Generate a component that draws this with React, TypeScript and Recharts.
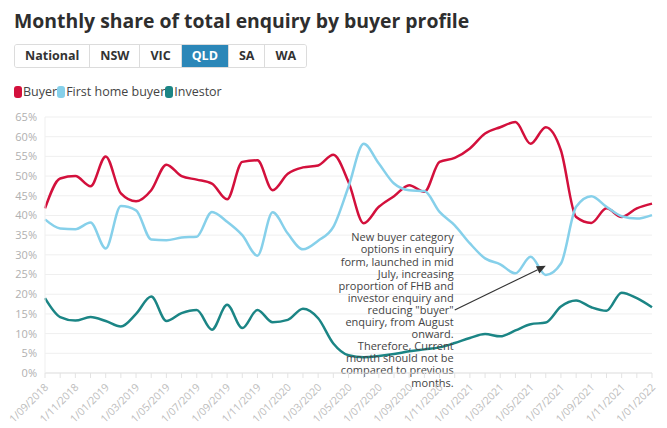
import React from 'react';
import { LineChart, Line, XAxis, YAxis, CartesianGrid, ReferenceLine } from 'recharts';

const months = [
  '1/09/2018', '1/10/2018', '1/11/2018', '1/12/2018',
  '1/01/2019', '1/02/2019', '1/03/2019', '1/04/2019', '1/05/2019', '1/06/2019',
  '1/07/2019', '1/08/2019', '1/09/2019', '1/10/2019', '1/11/2019', '1/12/2019',
  '1/01/2020', '1/02/2020', '1/03/2020', '1/04/2020', '1/05/2020', '1/06/2020',
  '1/07/2020', '1/08/2020', '1/09/2020', '1/10/2020', '1/11/2020', '1/12/2020',
  '1/01/2021', '1/02/2021', '1/03/2021', '1/04/2021', '1/05/2021', '1/06/2021',
  '1/07/2021', '1/08/2021', '1/09/2021', '1/10/2021', '1/11/2021', '1/12/2021',
  '1/01/2022',
];

const buyer = [
  41.8, 49.4, 50.0, 47.4, 55.0, 45.6, 43.6, 46.4, 52.9, 50.0,
  49.1, 48.1, 44.1, 53.6, 54.0, 46.4, 50.6, 52.2, 52.7, 55.4,
  48.5, 38.0, 42.2, 44.9, 47.7, 46.0, 53.6, 54.6, 57.0, 60.8,
  62.4, 63.7, 58.2, 62.4, 56.5, 39.6, 38.1, 41.8, 39.6, 41.8,
  43.0,
];

const firstHomeBuyer = [
  39.0, 36.7, 36.5, 38.2, 31.6, 42.4, 41.3, 33.9, 33.7, 34.4,
  34.6, 40.9, 38.4, 35.0, 29.8, 40.8, 35.4, 31.4, 33.6, 37.1,
  47.3, 58.2, 53.2, 48.1, 46.4, 46.2, 40.9, 37.5, 32.9, 29.1,
  27.6, 25.3, 29.5, 24.9, 27.8, 42.2, 44.9, 42.2, 39.8, 39.2,
  40.1,
];

const investor = [
  19.0, 14.2, 13.3, 14.2, 13.2, 11.8, 15.0, 19.4, 13.2, 15.2,
  16.0, 11.0, 17.3, 11.4, 16.0, 12.9, 13.5, 16.3, 13.9, 7.5,
  4.5, 4.0, 4.3, 4.8, 5.5, 6.0, 6.5, 7.6, 8.9, 9.9,
  9.3, 10.8, 12.4, 12.8, 16.9, 18.4, 16.7, 15.8, 20.4, 19.0,
  16.7,
];

const yTicks = [0, 5, 10, 15, 20, 25, 30, 35, 40, 45, 50, 55, 60, 65];
const regions = ['National', 'NSW', 'VIC', 'QLD', 'SA', 'WA'];
const selectedRegion = 'QLD';

const noteLines = [
  'New buyer category',
  'options in enquiry',
  'form, launched in mid',
  'July, increasing',
  'proportion of FHB and',
  'investor enquiry and',
  'reducing "buyer"',
  'enquiry, from August',
  'onward.',
  'Therefore, Current',
  'month should not be',
  'compared to previous',
  'months.',
];

const COLORS = { buyer: '#d3103c', fhb: '#86d0ea', investor: '#1b8585' };
const FONT = '"Open Sans", sans-serif';

const data = months.map((m, i) => ({
  month: m,
  buyer: buyer[i],
  fhb: firstHomeBuyer[i],
  investor: investor[i],
}));

const MonthTick = (props: any) => {
  const { x, y, index, payload } = props;
  if (index % 2 !== 0) return null;
  const tx = x + 4;
  const ty = y + 8;
  return (
    <text
      x={tx}
      y={ty}
      textAnchor="end"
      fontSize={10.5}
      fill="#bdbdbd"
      fontFamily={FONT}
      transform={`rotate(-45, ${tx}, ${ty})`}
    >
      {payload.value}
    </text>
  );
};

// arrow plus the note text, anchored to the arrow's start
const NoteArrow = (props: any) => {
  const { x1, y1, x2, y2 } = props;
  const ang = Math.atan2(y2 - y1, x2 - x1);
  const hl = 9;
  const hw = 4;
  const bx = x2 - hl * Math.cos(ang);
  const by = y2 - hl * Math.sin(ang);
  const px = -Math.sin(ang) * hw;
  const py = Math.cos(ang) * hw;
  return (
    <g>
      <line x1={x1} y1={y1} x2={bx} y2={by} stroke="#333" strokeWidth={1.2} />
      <polygon points={`${x2},${y2} ${bx + px},${by + py} ${bx - px},${by - py}`} fill="#333" />
      {noteLines.map((t, i) => (
        <text
          key={i}
          x={x1 - 1}
          y={y1 + (i - 6) * 12.1 + 4}
          textAnchor="end"
          fontSize={11}
          fill="#444"
          fontFamily={FONT}
        >
          {t}
        </text>
      ))}
    </g>
  );
};

export default function App() {
  return (
    <div style={{ position: 'absolute', left: 0, top: 0, width: 667, height: 428, background: '#fff', fontFamily: FONT }}>
      <div style={{ position: 'absolute', left: 14, top: 7, fontSize: 19.4, fontWeight: 700, color: '#2e2e2e', whiteSpace: 'nowrap' }}>
        Monthly share of total enquiry by buyer profile
      </div>

      <div style={{ position: 'absolute', left: 14, top: 44, display: 'flex', border: '1px solid #dcdcdc', borderRadius: 3, overflow: 'hidden' }}>
        {regions.map((r, i) => (
          <div
            key={r}
            style={{
              padding: '0 10px',
              height: 22,
              lineHeight: '22px',
              fontSize: 12.5,
              fontWeight: 700,
              color: r === selectedRegion ? '#fff' : '#333',
              background: r === selectedRegion ? '#2b87b8' : '#fff',
              borderLeft: i === 0 ? 'none' : '1px solid #dcdcdc',
            }}
          >
            {r}
          </div>
        ))}
      </div>

      <div style={{ position: 'absolute', left: 14, top: 83, display: 'flex', alignItems: 'center', fontSize: 12.5, color: '#444' }}>
        {[
          { label: 'Buyer', color: COLORS.buyer },
          { label: 'First home buyer', color: COLORS.fhb },
          { label: 'Investor', color: COLORS.investor },
        ].map((it) => (
          <div key={it.label} style={{ display: 'flex', alignItems: 'center' }}>
            <span style={{ display: 'inline-block', width: 8, height: 12, borderRadius: 3, background: it.color, marginRight: 1 }} />
            <span>{it.label}</span>
          </div>
        ))}
      </div>

      <div style={{ position: 'absolute', left: 0, top: 100 }}>
        <LineChart width={667} height={328} data={data} margin={{ top: 17, right: 15, left: 10, bottom: 0 }}>
          <CartesianGrid stroke="#efefef" vertical={false} />
          <XAxis
            dataKey="month"
            interval={0}
            tick={<MonthTick />}
            tickSize={5}
            tickLine={{ stroke: '#e3e3e3' }}
            axisLine={{ stroke: '#e3e3e3' }}
            height={55}
          />
          <YAxis
            domain={[0, 65]}
            ticks={yTicks}
            width={35}
            tickFormatter={(v) => `${v}%`}
            tick={{ fontSize: 11, fill: '#b0b0b0', fontFamily: FONT }}
            tickLine={false}
            axisLine={{ stroke: '#efefef' }}
            interval={0}
          />
          <Line type="monotone" dataKey="buyer" stroke={COLORS.buyer} strokeWidth={2.5} dot={false} isAnimationActive={false} />
          <Line type="monotone" dataKey="fhb" stroke={COLORS.fhb} strokeWidth={2.5} dot={false} isAnimationActive={false} />
          <Line type="monotone" dataKey="investor" stroke={COLORS.investor} strokeWidth={2.5} dot={false} isAnimationActive={false} />
          <ReferenceLine
            segment={[{ x: '1/12/2020', y: 16 }, { x: '1/06/2021', y: 27.2 }]}
            shape={NoteArrow}
            ifOverflow="visible"
          />
        </LineChart>
      </div>
    </div>
  );
}
